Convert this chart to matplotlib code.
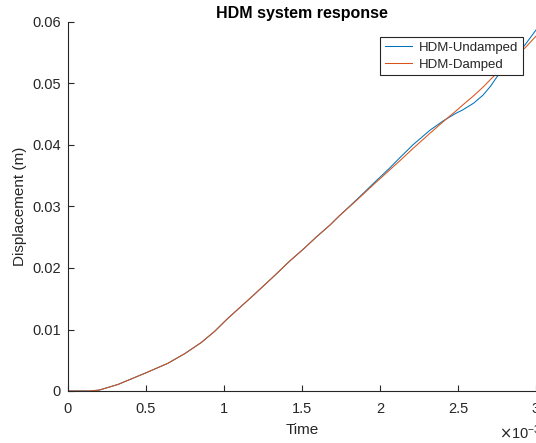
import numpy as np
import matplotlib
matplotlib.use("Agg")
import matplotlib.pyplot as plt

plt.rcParams['font.family'] = ['Liberation Sans', 'DejaVu Sans']

# time in ms, displacement in m
t_ms = [0, 0.14, 0.2, 0.32, 0.5, 0.64, 0.75, 0.855, 0.94, 1.02, 1.19, 1.33,
        1.42, 1.51, 1.59, 1.68, 1.74, 1.85, 1.96, 2.06, 2.13, 2.21, 2.32,
        2.41, 2.49, 2.53, 2.60, 2.66, 2.71, 2.75, 2.85, 2.93, 3.0]

x_undamped = [0, 0, 0.00015, 0.00106, 0.00296, 0.00450, 0.0061, 0.0079,
              0.00970, 0.0117, 0.0156, 0.0189, 0.0211, 0.0231, 0.0250,
              0.0270, 0.0285, 0.0311, 0.0338, 0.0362, 0.0380, 0.0400,
              0.0424, 0.0440, 0.0452, 0.0457, 0.0468, 0.0481, 0.0496,
              0.0511, 0.0539, 0.0563, 0.0587]

x_damped = [0, 0, 0.00015, 0.00106, 0.00296, 0.00450, 0.0061, 0.0079,
            0.00970, 0.0117, 0.0156, 0.0189, 0.0211, 0.0231, 0.0250,
            0.0270, 0.0285, 0.0310, 0.0336, 0.0359, 0.0375, 0.0394,
            0.0419, 0.0439, 0.0456, 0.0465, 0.0480, 0.0494, 0.0507,
            0.0517, 0.0540, 0.0558, 0.0577]

xtick_vals = [0, 0.5, 1, 1.5, 2, 2.5, 3]
ytick_vals = [0, 0.01, 0.02, 0.03, 0.04, 0.05, 0.06]

axcol = '#262626'
t = np.array(t_ms) * 1e-3

fig = plt.figure(figsize=(5.36, 4.43), dpi=100)
ax = fig.add_axes([68/536, 1 - 391/443, 1 - 68/536, (391 - 22)/443])

ax.plot(t, x_undamped, color='#0072BD', lw=0.75, label='HDM-Undamped')
ax.plot(t, x_damped, color='#D95319', lw=0.75, label='HDM-Damped')

ax.set_xlim(0, 3e-3)
ax.set_ylim(0, 0.06)
ax.set_xticks([v * 1e-3 for v in xtick_vals])
ax.set_xticklabels(['%g' % v for v in xtick_vals])
ax.set_yticks(ytick_vals)
ax.set_yticklabels(['%g' % v for v in ytick_vals])

for s in ['top', 'right']:
    ax.spines[s].set_visible(False)
for s in ['left', 'bottom']:
    ax.spines[s].set_color(axcol)
    ax.spines[s].set_linewidth(0.8)
ax.tick_params(direction='in', length=4.5, width=0.8, color=axcol,
               labelcolor=axcol, labelsize=10.5)
ax.tick_params(axis='x', pad=8)
ax.tick_params(axis='y', pad=5)

ax.set_xlabel('Time', fontsize=11, color=axcol, labelpad=5)
ax.set_ylabel('Displacement (m)', fontsize=11, color=axcol, labelpad=4)
ax.set_title('HDM system response', fontsize=11.5, fontweight='bold',
             color='black', pad=3)

fig.text(499/536, 1 - 439/443, r'$\times\mathregular{10^{-3}}$',
         fontsize=10.5, color=axcol, ha='left', va='baseline')

leg = ax.legend(loc='upper right', bbox_to_anchor=((523 - 68)/468, 1 - 15/369),
                borderaxespad=0, fontsize=9.5, fancybox=False, framealpha=1,
                handlelength=2.1, handletextpad=0.5, borderpad=0.35,
                labelspacing=0.35)
leg.get_frame().set_edgecolor(axcol)
leg.get_frame().set_linewidth(0.8)
for txt in leg.get_texts():
    txt.set_color(axcol)

fig.savefig('out.png', dpi=100)
